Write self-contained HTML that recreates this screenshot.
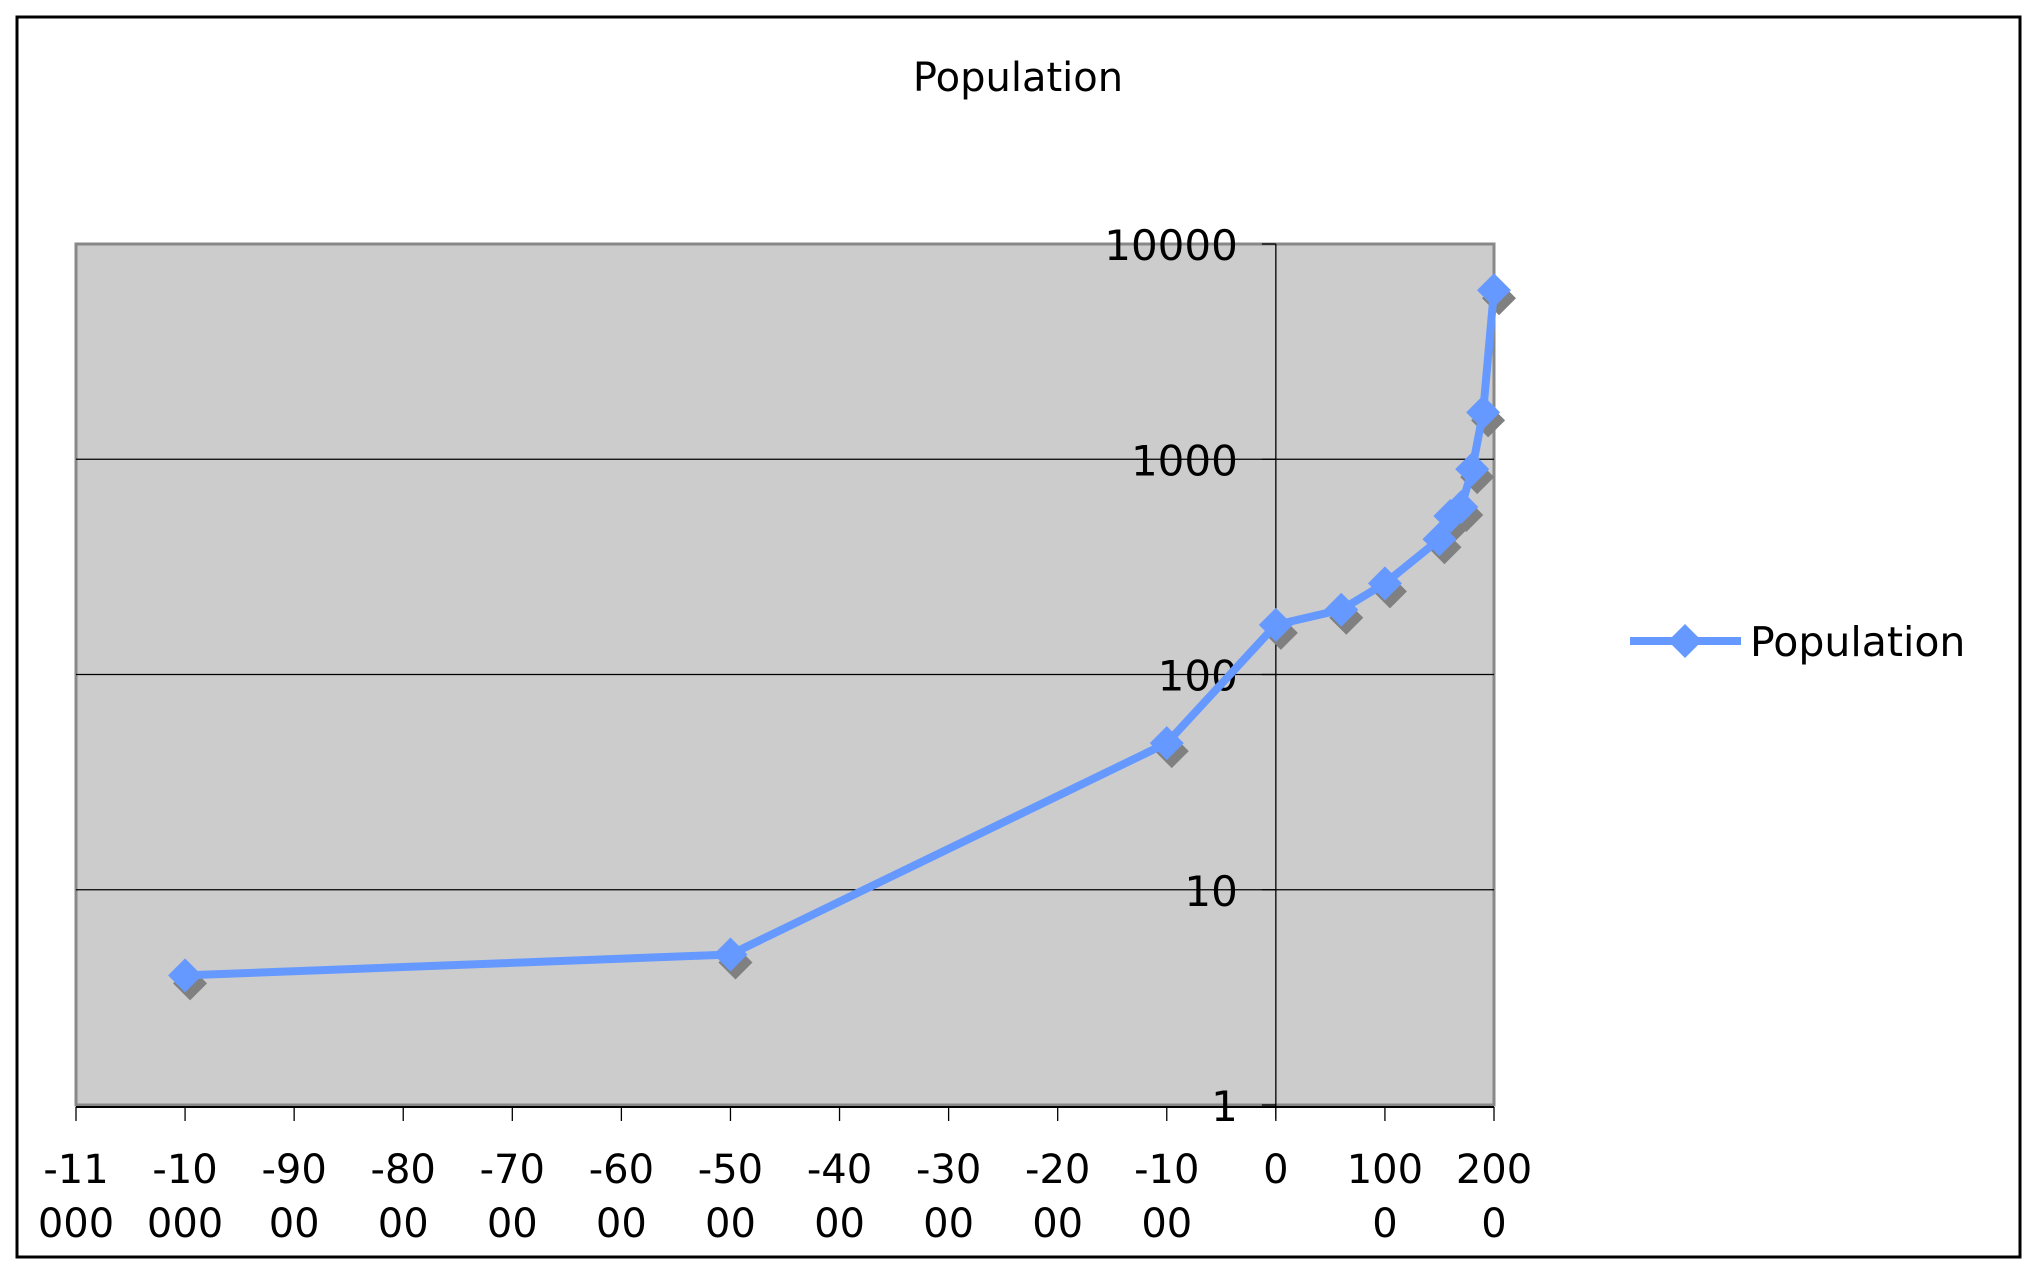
<!DOCTYPE html>
<html><head><meta charset="utf-8"><style>
html,body{margin:0;padding:0;background:#fff;}
svg{display:block;font-family:"DejaVu Sans","Liberation Sans",sans-serif;}
</style></head><body>
<svg id="chart" width="2037" height="1275" viewBox="0 0 2037 1275">
<rect x="17" y="17" width="2003" height="1240" fill="#fff" stroke="#000" stroke-width="3"/>
<text x="1018" y="91" font-size="40" text-anchor="middle">Population</text>
<rect x="76" y="244" width="1418" height="861" fill="#cccccc" stroke="#888" stroke-width="3"/>
<g id="grid"></g><g id="axes"></g><g id="series"></g>
<g>
<line x1="1630" y1="641" x2="1741" y2="641" stroke="#6699ff" stroke-width="8"/>
<polygon points="1685,624 1702,641 1685,658 1668,641" fill="#6699ff"/>
<text x="1750" y="656" font-size="41">Population</text>
</g>
</svg>
<script>
const years = [-10000, -5000, -1000, 0, 600, 1000, 1500, 1600, 1700, 1800, 1900, 2000];
const population = [4, 5, 48, 170, 200, 265, 425, 545, 600, 900, 1650, 6100];
const yTicks = [1, 10, 100, 1000, 10000];
const xTicks = [-11000,-10000,-9000,-8000,-7000,-6000,-5000,-4000,-3000,-2000,-1000,0,1000,2000];
const xLabels = [["-11","000"],["-10","000"],["-90","00"],["-80","00"],["-70","00"],["-60","00"],["-50","00"],["-40","00"],["-30","00"],["-20","00"],["-10","00"],["0",""],["100","0"],["200","0"]];

const NS="http://www.w3.org/2000/svg";
const X0=76,X1=1494,Y0=1105,Y1=244;
const xMin=-11000,xMax=2000;
function sx(v){return X0+(v-xMin)/(xMax-xMin)*(X1-X0);}
function sy(v){return Y0-(Math.log10(v)-0)/4*(Y0-Y1);}
function mk(tag,attrs,parent){const e=document.createElementNS(NS,tag);for(const k in attrs)e.setAttribute(k,attrs[k]);parent.appendChild(e);return e;}
const grid=document.getElementById('grid'),axes=document.getElementById('axes'),series=document.getElementById('series');
const ax0=sx(0);
yTicks.forEach((t,i)=>{
  const y=sy(t);
  if(i>0&&i<yTicks.length-1){const g=mk('line',{x1:X0,x2:X1,y1:y,y2:y,stroke:'#000','stroke-width':1.3},grid);
    
    }
  const tk=mk('line',{x1:ax0-14,x2:ax0,y1:y,y2:y,stroke:'#000','stroke-width':1.3},axes);
  
  
  const tx=mk('text',{x:ax0-38,y:y+16,'font-size':42,'text-anchor':'end'},axes);
  
  
  tx.textContent=t;
});
const va=mk('line',{x1:ax0,x2:ax0,y1:Y1,y2:Y0+14,stroke:'#000','stroke-width':1.3},axes);


const ha=mk('line',{x1:X0,x2:X1,y1:Y0+2,y2:Y0+2,stroke:'#000','stroke-width':2},axes);


xTicks.forEach((t,i)=>{
  const x=sx(t);
  const tk=mk('line',{x1:x,x2:x,y1:Y0+2,y2:Y0+16,stroke:'#000','stroke-width':1.3},axes);
  
  
  const tx=mk('text',{x:x,y:1183,'font-size':40,'text-anchor':'middle'},axes);
  
  
  const a=mk('tspan',{x:x},tx);a.textContent=xLabels[i][0];
  if(xLabels[i][1]){const b=mk('tspan',{x:x,dy:54},tx);b.textContent=xLabels[i][1];}
});
const pts=years.map((y,i)=>[sx(y),sy(population[i])]);
const d=pts.map((p,i)=>(i?'L':'M')+p[0].toFixed(1)+' '+p[1].toFixed(1)).join(' ');
pts.forEach(p=>{const s=mk('polygon',{points:`${p[0]+5},${p[1]-9} ${p[0]+22},${p[1]+8} ${p[0]+5},${p[1]+25} ${p[0]-12},${p[1]+8}`,fill:'#808080'},series);
  
  });
const ln=mk('path',{d:d,fill:'none',stroke:'#6699ff','stroke-width':8,'stroke-linejoin':'round'},series);


pts.forEach(p=>{const m=mk('polygon',{points:`${p[0]},${p[1]-17} ${p[0]+17},${p[1]} ${p[0]},${p[1]+17} ${p[0]-17},${p[1]}`,fill:'#6699ff'},series);
  
  });
</script>
</body></html>
